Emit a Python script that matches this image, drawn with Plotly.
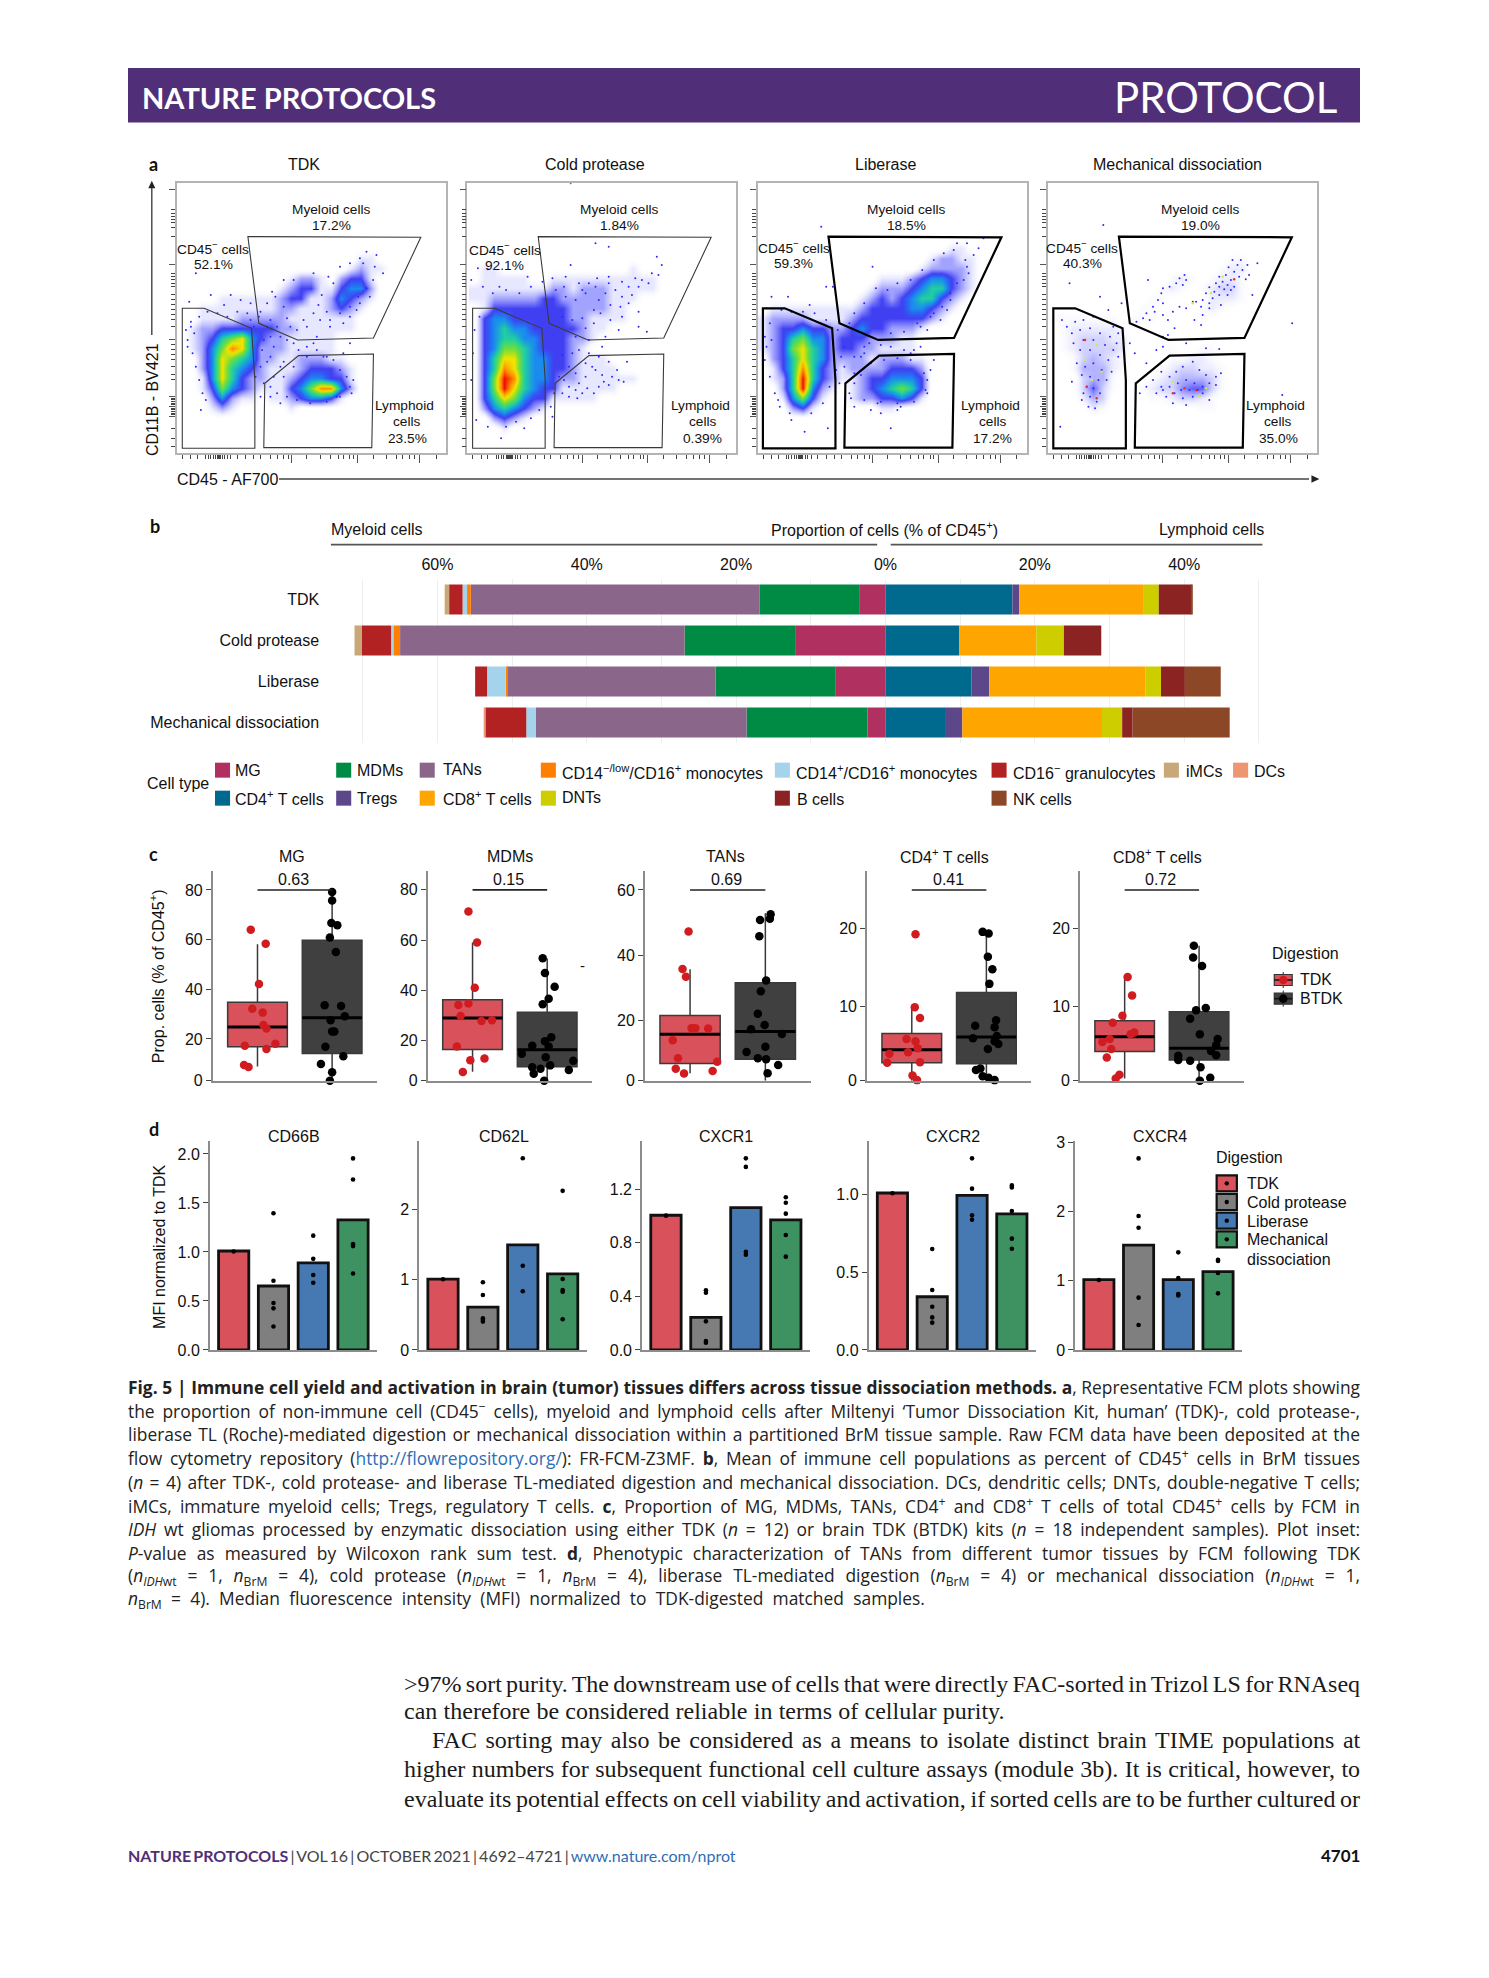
import plotly.graph_objects as go

W, H = 1489, 1978
SANS = "Liberation Sans"
LATO = "Lato"
SERIF = "Liberation Serif"
CAPFONT = "Open Sans"

# ---------- panel a: pseudocolour density levels read per 10 px cell (0 none .. 9 red)
FCM_TDK = [
 "", "", "", "", "", "", "",
 "000000000000000000110",
 "000000000000000001211",
 "000000000001221023310",
 "000000000012331134420",
 "000011111123311243210",
 "0011111111221112321",
 "001111222221111111",
 "012233333322111111",
 "0123567432211111",
 "0124687422211111",
 "00247654221122211",
 "002475432111233321",
 "001475322112344331",
 "001364321113468842",
 "00024211011234431",
 "000121000001",
]
FCM_COLD = [
 "", "", "", "", "", "", "", "",
 "01100000000000001",
 "0111110011111111111",
 "1111111122122211111",
 "11222223322222111",
 "0133333333222211",
 "0344333333221111",
 "034544333332110",
 "0345544333221",
 "034665433321",
 "035775443321110",
 "0358754433211110",
 "03698544322111111",
 "0369754331111110",
 "0357643311111",
 "02454321",
 "002321",
 "0001",
]
FCM_LIB = [
 "", "", "", "", "", "",
 "000000000000000000011",
 "0000000000000000012211",
 "0000000000000000122221",
 "0000000000001112344321",
 "0000000000012223455321",
 "0000000000123234553210",
 "01111111112333344321",
 "1222211112333333321",
 "12334332234332221",
 "1235644233322211",
 "1236754233221111",
 "02357542222122211",
 "01358532122223332",
 "01259532112334443",
 "00259421012345653",
 "00146310012233431",
 "00023100000011",
]
FCM_MECH = [
 "", "", "", "", "", "", "",
 "00000000000000000011",
 "00000000000000000122",
 "00000000000012101221",
 "00000000000121012331",
 "00000000001100002221",
 "0000000001100001210",
 "11111110111000010",
 "01222221",
 "012333220001",
 "01233332000110011",
 "00134321000011221",
 "001444210001233221",
 "000344100012344431",
 "000363100123356631",
 "00024300001123321",
 "00002100000000011",
]
FCM_GRIDS = [FCM_TDK, FCM_COLD, FCM_LIB, FCM_MECH]

SPARSE_TDK = [(620,225),(590,215),(640,280),(570,235),(615,260),(600,350),(570,370),(540,410),(480,440),(450,420),(410,440),(380,450),(340,300),(305,335),(290,370),(270,395),(300,420),(350,415),(320,440),(180,345),(120,345),(55,365),(75,280),(210,360),(240,370),(160,375),(200,395),(240,420),(60,440),(50,500),(70,460),(90,690),(105,660),(280,480),(310,500),(300,530),(270,560),(330,560),(350,480),(430,490),(440,510),(520,520),(540,490),(550,600),(320,640),(330,670),(300,650),(270,650),(540,620),(500,650),(460,530),(490,540),
 (140,400),(170,410),(110,395),(85,410),(60,425),(45,450),(50,480),(65,520),(75,560),(85,600),(95,640),(230,400),(265,410),(290,440),(330,470),(370,490),(410,500),(300,470),(250,440),(275,510),(290,545),(255,590),(280,610),(310,590),(340,545),(385,510),(440,470),(520,430),(560,390),(480,420),(430,400),(400,420),(360,440),(340,380),(315,350),(370,300),(430,280),(475,290),(490,310),(510,260),(540,250),(580,250),(610,300),(590,325),(565,350),(540,380),(510,400),(455,345),(445,375),(470,395),(340,590),(370,560),(410,530),(470,530),(510,570),(530,590),(545,640),(510,650),(470,665),(420,670),(380,660),(350,650),(300,620)]
SPARSE_COLD = [(325,10),(440,200),(400,190),(325,255),(195,290),(75,268),(45,265),(25,300),(110,320),(585,230),(600,255),(570,280),(590,285),(540,300),(520,295),(480,305),(440,310),(405,295),(380,310),(270,295),(310,290),(360,330),(500,370),(530,395),(480,410),(530,440),(555,455),(470,450),(430,470),(420,500),(380,520),(495,545),(470,600),(485,605),(450,590),(420,585),(400,570),(370,590),(340,630),(360,640),(410,620),(440,615),(300,640),(320,650),(305,600),(115,775),(270,710),(185,745),(75,740),(25,600),(350,610),(390,560),(330,520),
 (60,320),(90,340),(130,330),(170,340),(205,320),(240,305),(280,330),(310,350),(340,360),(370,340),(400,320),(430,340),(460,330),(500,320),(530,320),(560,310),(410,360),(445,375),(475,380),(510,345),(415,400),(445,420),(395,430),(370,445),(340,470),(380,480),(350,510),(300,525),(320,560),(290,590),(340,580),(370,550),(410,530),(440,545),(465,570),(425,605),(395,640),(375,625),(345,655),(320,620),(275,640),(265,680),(160,725),(130,740),(205,715),(230,690),(40,720),(50,410),(35,450),(30,520),(300,410),(330,420),(360,415),(395,390),(480,350),(440,290),(350,310),(305,320)]
SPARSE_LIB = [(200,140),(355,260),(235,320),(215,320),(100,350),(165,375),(50,350),(35,385),(640,190),(610,190),(675,205),(690,175),(660,225),(645,280),(630,300),(590,360),(580,390),(540,400),(520,450),(560,420),(500,440),(410,745),(430,690),(380,700),(350,690),(300,680),(150,755),(220,745),(110,720),(70,660),(50,480),(30,470),(480,510),(540,540),(530,570),(520,600),(515,630),(420,525),(470,520),(320,530),(330,500),(270,560),(300,580),(255,610),(370,670),(440,680),
 (80,390),(110,395),(145,395),(180,400),(215,420),(250,450),(270,500),(300,530),(330,520),(345,490),(380,495),(410,500),(450,510),(500,500),(45,430),(35,500),(30,540),(45,590),(60,640),(75,680),(105,700),(170,700),(205,670),(225,620),(245,570),(260,530),(285,430),(300,400),(330,370),(365,325),(400,330),(430,310),(470,300),(505,270),(540,240),(570,220),(600,210),(635,240),(640,260),(610,310),(590,340),(565,380),(530,410),(490,430),(450,455),(410,460),(285,640),(300,610),(320,585),(350,550),(390,540),(430,535),(470,540),(510,580),(520,640),(480,665),(430,670),(380,665),(330,660),(290,655)]
SPARSE_MECH = [(560,240),(585,240),(605,255),(575,255),(548,262),(590,270),(610,285),(565,275),(540,285),(520,290),(580,290),(600,298),(555,300),(530,305),(510,310),(545,315),(520,320),(490,322),(565,320),(555,330),(535,328),(505,335),(480,340),(520,345),(545,345),(500,355),(470,360),(450,365),(490,370),(525,375),(465,380),(490,385),(440,365),(620,345),(635,250),(470,405),(445,420),(465,435),
 (415,285),(400,295),(420,300),(390,310),(410,315),(370,320),(350,325),(345,340),(305,300),(335,360),(350,370),(320,380),(300,400),(325,395),(290,415),(270,425),(310,420),(350,405),(380,395),(400,380),(420,385),(365,420),(385,445),(365,465),(350,470),
 (250,490),(265,520),(300,550),(330,510),(350,500),(420,490),(480,505),(520,507),(170,135),(68,310),(40,740),(160,350),(185,390),(225,370),
 (45,420),(60,440),(85,425),(110,420),(140,410),(170,420),(200,440),(215,460),(75,460),(100,450),(130,445),(160,460),(190,470),(210,490),(80,490),(110,480),(140,480),(175,495),(200,510),(100,510),(130,510),(160,525),(185,540),(215,530),(90,550),(115,560),(140,550),(165,570),(195,575),(105,585),(130,590),(155,600),(180,600),(120,620),(140,625),(160,640),(110,640),(130,650),(150,665),(125,680),(145,685),(105,660),(75,605),
 (300,620),(280,640),(320,600),(345,575),(350,630),(370,590),(390,575),(410,560),(440,545),(460,570),(480,585),(510,590),(525,580),(490,610),(510,615),(470,640),(440,650),(410,655),(385,640),(360,650),(330,640),(345,620),(370,620),(395,610),(420,600),(445,610),(470,620),(430,630),(405,630),(455,630),(380,670),(420,675),(490,660),(710,645),(740,430)]
SPARSE = [SPARSE_TDK, SPARSE_COLD, SPARSE_LIB, SPARSE_MECH]
MECH_YELLOW = [(115,540),(165,575),(135,600),(150,495),(380,605),(480,625),(530,290),(495,340),(460,650),(440,370)]
MECH_RED = [(120,620),(150,655),(415,625),(450,630),(380,640),(565,298),(115,480)]

GATE_MYELOID = [(232,170),(754,172),(611,474),(382,480),(265,430)]
GATE_CD45NEG = [(34,385),(100,385),(243,445),(253,600),(253,805),(34,805)]
GATE_LYMPH = [(283,610),(385,527),(611,522),(606,803),(280,803)]

FCM_XTICKS_MAJOR = [365,563,750]
FCM_XTICKS_MINOR = [35,60,80,105,112,120,128,135,140,142,144,146,148,150,155,162,170,180,200,225,250,270,300,320,340,355,410,450,480,505,520,540,550,610,650,680,700,720,735,800]
FCM_YTICKS_MAJOR = [30,255,480,650,680,710]
FCM_YTICKS_MINOR = [90,100,110,120,128,142,170,280,290,300,310,320,345,360,375,390,405,420,440,495,510,525,540,560,585,600,655,660,665,670,675,685,690,695,700,705,745,775,800]

PANEL_A_TITLES = ["TDK", "Cold protease", "Liberase", "Mechanical dissociation"]
PCT_MYELOID = ["17.2%", "1.84%", "18.5%", "19.0%"]
PCT_CD45NEG = ["52.1%", "92.1%", "59.3%", "40.3%"]
PCT_LYMPH = ["23.5%", "0.39%", "17.2%", "35.0%"]

# ---------- panel b
ROWS_B = ["TDK", "Cold protease", "Liberase", "Mechanical dissociation"]
MG_B = [3.43, 12.0, 6.65, 2.4]
MDM_B = [13.4, 14.9, 16.1, 16.2]
TAN_B = [38.7, 38.1, 27.9, 28.2]
CD14L_B = [0.5, 0.9, 0.2, 0.0]
CD14P_B = [0.6, 0.3, 2.5, 1.3]
CD16N_B = [1.8, 3.9, 1.6, 5.5]
IMC_B = [0.6, 1.0, 0.0, 0.0]
DC_B = [0.0, 0.0, 0.0, 0.2]
CD4_B = [17.0, 9.9, 11.5, 8.1]
TREG_B = [0.9, 0.0, 2.4, 2.2]
CD8_B = [16.6, 10.3, 20.9, 18.7]
DNT_B = [2.1, 3.7, 2.1, 2.7]
BCELL_B = [4.4, 5.0, 3.2, 1.4]
NK_B = [0.1, 0.0, 4.8, 13.0]
X_TICKS_B = [-60,-40,-20,0,20,40]
X_TEXT_B = ["60%","40%","20%","0%","20%","40%"]
X_GRID_B = [-70,-50,-30,-10,10,30,50]

# ---------- panel c  (dx = jitter around the group centre, val = % of CD45+)
MG_TDK_DX = [-.09,.11,.02,-.07,.07,.08,.12,-.17,.24,.12,-.18,-.12]
MG_TDK_VAL = [64.0,58.3,42.1,32.2,30.6,25.6,24.2,17.3,18.1,16.0,9.5,8.7]
MG_BTDK_DX = [0,.0,-.01,.07,-.03,.05,-.10,.12,.17,-.02,.0,.03,-.09,.15,-.15,0,-.03]
MG_BTDK_VAL = [79.2,75.8,66.7,65.8,60.9,55.0,33.6,33.3,29.1,27.5,23.0,23.0,16.9,13.0,9.9,6.6,3.2]
MDM_TDK_DX = [-.055,.06,.03,-.19,-.055,-.16,.12,.26,-.21,-.03,.16,-.13]
MDM_TDK_VAL = [71.4,59.0,41.0,34.1,34.7,29.7,27.7,28.0,17.5,12.0,12.7,7.4]
MDM_BTDK_DX = [-.06,-.03,.10,.02,-.06,.055,-.03,-.2,.02,-.34,-.02,.35,-.2,.04,-.09,.29,-.18,-.04]
MDM_BTDK_VAL = [52.7,46.8,41.4,36.6,34.4,21.2,19.6,17.8,17.5,14.6,13.2,11.8,9.3,10.0,8.7,8.2,6.7,3.9]
TAN_TDK_DX = [-.02,-.10,-.055,.02,.07,.24,-.23,-.16,.36,-.19,.30,-.08]
TAN_TDK_VAL = [47.3,35.8,33.4,17.7,17.7,17.6,14.0,8.5,7.4,5.3,4.6,3.8]
TAN_BTDK_DX = [-.07,.06,.07,-.08,.01,-.06,-.10,-.01,-.19,0,-.25,-.10,.01,.17,.03,-.11,0,.22]
TAN_BTDK_VAL = [50.8,51.2,52.6,45.8,32.3,29.0,22.1,18.7,17.4,12.0,10.4,8.5,8.2,6.4,3.9,1.6,1.6,15.9]
CD4_TDK_DX = [.05,.04,.11,-.07,.05,.08,-.05,-.30,-.33,.11,.01,.07]
CD4_TDK_VAL = [19.3,9.9,8.5,5.8,5.5,4.6,4.1,3.9,2.75,2.8,1.1,.5]
CD4_BTDK_DX = [-.05,.03,.02,.08,.04,.13,-.15,.11,.14,-.18,.11,.16,.02,-.14,-.08,-.05,.03,.11]
CD4_BTDK_VAL = [19.6,19.4,16.4,14.8,12.9,8.2,7.5,7.3,6.2,5.9,5.5,5.15,4.5,1.8,2.0,1.0,.8,.5]
CD8_TDK_DX = [.04,.10,-.03,-.16,.13,.08,-.2,-.3,-.18,-.24,-.07,-.12]
CD8_TDK_VAL = [13.8,11.4,8.8,7.9,6.65,6.4,5.8,5.4,4.5,3.4,1.2,.7]
CD8_BTDK_DX = [-.07,-.08,.04,.09,-.04,-.12,.01,.25,.23,.16,.23,-.28,-.28,-.12,.02,.15,.01]
CD8_BTDK_VAL = [17.8,16.3,15.2,9.8,9.5,8.4,6.4,5.8,5.0,4.25,3.7,3.65,3.1,3.0,2.15,.8,.43]
# box stats: lower fence, q1, median, q3, upper fence
MG_BOX = [(8.9,16.9,24.8,34.8,58.1),(3.2,14.1,28.5,59.7,79.0)]
MDM_BOX = [(7.5,16.3,28.9,36.2,59.0),(3.9,9.4,16.2,31.2,52.6)]
TAN_BOX = [(3.9,6.9,15.8,21.6,35.7),(1.63,8.2,16.7,31.6,52.9)]
CD4_BOX = [(.43,2.75,4.4,6.5,9.9),(.43,2.6,6.05,11.8,19.4)]
CD8_BOX = [(.7,4.2,6.1,8.15,13.8),(.43,3.1,4.6,9.3,17.8)]
P_VALUES = ["0.63","0.15","0.69","0.41","0.72"]
TITLES_C = ["MG","MDMs","TANs","CD4<sup>+</sup> T cells","CD8<sup>+</sup> T cells"]

# ---------- panel d
CD66B_BARS = [1.01,.653,.89,1.327]
CD66B_PTS = [[1.005],[1.395,.707,.48,.425,.24],[1.167,.93,.765,.687],[1.955,1.74,1.08,1.06,.78]]
CD62L_BARS = [1.01,.61,1.497,1.083]
CD62L_PTS = [[1.007],[.964,.784,.451,.428,.404],[2.73,1.2,.836],[2.266,1.01,.855,.83,.437]]
CXCR1_BARS = [1.006,.244,1.063,.971]
CXCR1_PTS = [[1.003],[.446,.428,.214,.067,.055],[1.431,1.367,.734,.712],[1.14,1.1,1.018,.859,.697]]
CXCR2_BARS = [1.011,.343,.996,.876]
CXCR2_PTS = [[1.009],[.65,.386,.279,.21,.176],[1.234,1.039,.867,.839],[1.06,1.047,.895,.717,.652]]
CXCR4_BARS = [1.014,1.514,1.014,1.13]
CXCR4_PTS = [[1.01],[2.764,1.933,1.764,.755,.36],[1.409,1.038,.808,.788],[1.303,1.284,1.11,.817]]
TITLES_D = ["CD66B","CD62L","CXCR1","CXCR2","CXCR4"]
DIGESTIONS = ["TDK","Cold protease","Liberase","Mechanical","dissociation"]

CAPTION = [
 "<b>Fig. 5 | Immune cell yield and activation in brain (tumor) tissues differs across tissue dissociation methods. a</b>, Representative FCM plots showing",
 "the proportion of non-immune cell (CD45<sup>−</sup> cells), myeloid and lymphoid cells after Miltenyi ‘Tumor Dissociation Kit, human’ (TDK)-, cold protease-,",
 "liberase TL (Roche)-mediated digestion or mechanical dissociation within a partitioned BrM tissue sample. Raw FCM data have been deposited at the",
 "flow cytometry repository (<span style=\"color:#2f6db5\">http://flowrepository.org/</span>): FR-FCM-Z3MF. <b>b</b>, Mean of immune cell populations as percent of CD45<sup>+</sup> cells in BrM tissues",
 "(<i>n</i> = 4) after TDK-, cold protease- and liberase TL-mediated digestion and mechanical dissociation. DCs, dendritic cells; DNTs, double-negative T cells;",
 "iMCs, immature myeloid cells; Tregs, regulatory T cells. <b>c</b>, Proportion of MG, MDMs, TANs, CD4<sup>+</sup> and CD8<sup>+</sup> T cells of total CD45<sup>+</sup> cells by FCM in",
 "<i>IDH</i> wt gliomas processed by enzymatic dissociation using either TDK (<i>n</i> = 12) or brain TDK (BTDK) kits (<i>n</i> = 18 independent samples). Plot inset:",
 "<i>P</i>-value as measured by Wilcoxon rank sum test. <b>d</b>, Phenotypic characterization of TANs from different tumor tissues by FCM following TDK",
 "(<i>n</i><sub><i>IDH</i>wt</sub> = 1, <i>n</i><sub>BrM</sub> = 4), cold protease (<i>n</i><sub><i>IDH</i>wt</sub> = 1, <i>n</i><sub>BrM</sub> = 4), liberase TL-mediated digestion (<i>n</i><sub>BrM</sub> = 4) or mechanical dissociation (<i>n</i><sub><i>IDH</i>wt</sub> = 1,",
 "<i>n</i><sub>BrM</sub> = 4). Median fluorescence intensity (MFI) normalized to TDK-digested matched samples.",
]
BODY = [
 ">97% sort purity. The downstream use of cells that were directly FAC-sorted in Trizol LS for RNAseq",
 "can therefore be considered reliable in terms of cellular purity.",
 "FAC sorting may also be considered as a means to isolate distinct brain TIME populations at",
 "higher numbers for subsequent functional cell culture assays (module 3b). It is critical, however, to",
 "evaluate its potential effects on cell viability and activation, if sorted cells are to be further cultured or",
]

# ---------- layout helpers (reference-crop units to page pixels)
zx1 = lambda v: 120 + v / 1.2573
zx2 = lambda v: 130 + v / 1.329
zx3 = lambda v: 130 + v / 2.418
zx4 = lambda v: 780 + v / 2.62
y1 = lambda v: 60 + v / 3
y2 = lambda v: 500 + v / 3
y3 = lambda v: 830 + v / 3
y5 = lambda v: 1110 + v / 3
y8 = lambda v: 1640 + v / 3

fig = go.Figure()
layout = {}
shapes = []
anns = []
n_axes = [0]

def px(x): return x / W
def py(y): return 1 - y / H

def axes(x0, x1, ytop, ybot, xcfg, ycfg):
    n_axes[0] += 1
    n = n_axes[0]
    s = "" if n == 1 else str(n)
    base = dict(showgrid=False, zeroline=False, fixedrange=True)
    layout["xaxis" + s] = {**base, "domain": [px(x0), px(x1)], "anchor": "y" + s, **xcfg}
    layout["yaxis" + s] = {**base, "domain": [py(ybot), py(ytop)], "anchor": "x" + s, **ycfg}
    return "x" + s, "y" + s

def T(x, y, text, size=16, anchor="center", color="#111111", font=SANS, angle=0, just=None):
    a = dict(xref="paper", yref="paper", x=px(x), y=py(y), text=text, showarrow=False,
             xanchor=anchor, yanchor="middle", align=anchor,
             font=dict(family=font, size=size, color=color), textangle=angle,
             borderpad=0, borderwidth=0)
    if just:
        a["name"] = "J%.1f" % just
    anns.append(a)

def rect(x0, y0, x1, y1_, fill, line=None, lw=0):
    shapes.append(dict(type="rect", xref="paper", yref="paper", x0=px(x0), x1=px(x1), y0=py(y0), y1=py(y1_),
                       fillcolor=fill, line=dict(color=line or fill, width=lw)))

def seg(x0, y0, x1, y1_, color, lw):
    shapes.append(dict(type="line", xref="paper", yref="paper", x0=px(x0), x1=px(x1), y0=py(y0), y1=py(y1_),
                       line=dict(color=color, width=lw)))

def dot(x, y, r, color):
    shapes.append(dict(type="circle", xref="paper", yref="paper", x0=px(x-r), x1=px(x+r), y0=py(y-r), y1=py(y+r),
                       fillcolor=color, line=dict(color=color, width=0)))

def tri(points, color):
    p = "M " + " L ".join("%.5f,%.5f" % (px(a), py(b)) for a, b in points) + " Z"
    shapes.append(dict(type="path", xref="paper", yref="paper", path=p, fillcolor=color, line=dict(color=color, width=0)))

# ---------- header / footer
PURPLE = "#512f78"
RIGHT = 1360
rect(128, 68, RIGHT, 122.5, PURPLE)
T(142, 97.5, "<b>NATURE PROTOCOLS</b>", size=29, anchor="left", color="white", font=LATO)
T(1337, 97.5, "PROTOCOL", size=42, anchor="right", color="white", font=LATO)
T(128, y8(650) - 1.2, "<b><span style=\"color:#512f78\">NATURE PROTOCOLS</span></b> | VOL 16 | OCTOBER 2021 | 4692–4721 | <span style=\"color:#2f6db5\">www.nature.com/nprot</span>",
  size=16, anchor="left", color="#444444", font=LATO, just=zx1(774)-128)
T(RIGHT, y8(650) - 1.2, "<b>4701</b>", size=17, anchor="right", color="#111111", font=LATO)

# ---------- panel a
LEFTS = [177.0, 467.3, 757.6, 1048.0]
OFFSETS = [0, 5, 10, 15]
GATE_W = [1.1, 1.1, 2.2, 2.2]
GATE_C = ["#3a3a3a", "#3a3a3a", "#000000", "#000000"]
COLORSCALE = [[0, "rgba(255,255,255,0)"], [1/9, "rgba(120,120,255,0.18)"], [2/9, "rgba(70,70,255,0.5)"], [3/9, "rgba(30,30,240,0.85)"],
              [4/9, "#1a8cf0"], [5/9, "#20d0a0"], [6/9, "#70de3c"], [7/9, "#f0e400"], [8/9, "#ff8c00"], [1, "#ee1000"]]
CELL = 30
for i, L in enumerate(LEFTS):
    xa, ya = axes(L, L + 269, 183.3, 453.3,
                  dict(range=[18, 830], showticklabels=False, showline=True, mirror=True, linecolor="#b4b4b4", linewidth=1.5,
                       ticks="outside", tickmode="array", tickvals=FCM_XTICKS_MAJOR, ticklen=8, tickcolor="#555555", tickwidth=1,
                       minor=dict(ticks="outside", tickmode="array", tickvals=FCM_XTICKS_MINOR, ticklen=4, tickcolor="#444444", tickwidth=1)),
                  dict(range=[820, 10], showticklabels=False, showline=True, mirror=True, linecolor="#b4b4b4", linewidth=1.5,
                       ticks="outside", tickmode="array", tickvals=FCM_YTICKS_MAJOR, ticklen=6, tickcolor="#555555", tickwidth=1,
                       minor=dict(ticks="outside", tickmode="array", tickvals=FCM_YTICKS_MINOR, ticklen=4, tickcolor="#444444", tickwidth=1)))
    rows = [[int(ch) for ch in r.ljust(27, "0")[:27]] for r in FCM_GRIDS[i]]
    rows += [[0] * 27 for _ in range(27 - len(rows))]
    gx = [18 + CELL * c + CELL / 2 + (5 if i == 1 else 0) for c in range(27)]
    gy = [10 + CELL * r + CELL / 2 for r in range(27)]
    fig.add_trace(go.Heatmap(x=gx, y=gy, z=rows, zmin=0, zmax=20 if i == 3 else 9, zsmooth="best",
                             colorscale=COLORSCALE, showscale=False, hoverinfo="skip", xaxis=xa, yaxis=ya))
    fig.add_trace(go.Scatter(x=[p[0] + OFFSETS[i] for p in SPARSE[i]], y=[p[1] for p in SPARSE[i]], mode="markers",
                             marker=dict(size=2, color="#2a2aff"), xaxis=xa, yaxis=ya, hoverinfo="skip"))
    if i == 3:
        fig.add_trace(go.Scatter(x=[p[0] + 15 for p in MECH_YELLOW], y=[p[1] for p in MECH_YELLOW], mode="markers",
                                 marker=dict(size=2.4, color="#c8ee40"), xaxis=xa, yaxis=ya, hoverinfo="skip"))
        fig.add_trace(go.Scatter(x=[p[0] + 15 for p in MECH_RED], y=[p[1] for p in MECH_RED], mode="markers",
                                 marker=dict(size=2.4, color="#ee3020"), xaxis=xa, yaxis=ya, hoverinfo="skip"))
    for gate in (GATE_MYELOID, GATE_CD45NEG, GATE_LYMPH):
        path = "M " + " L ".join("%d,%d" % g for g in gate) + " Z"
        shapes.append(dict(type="path", xref=xa, yref=ya, path=path, line=dict(color=GATE_C[i], width=GATE_W[i])))

T(zx1(229) + 1.5, 165, PANEL_A_TITLES[0]); T(zx1(595) + 2, 165, PANEL_A_TITLES[1])
T(zx1(960) + 2, 165, PANEL_A_TITLES[2]); T(zx1(1327) + 2, 165, PANEL_A_TITLES[3])
T(zx1(42), 164, "<b>a</b>", size=18, font=LATO)
MY_X = [266, 628, 989, 1359]
CD_X = [117, 484, 847, 1210]
CD_Y = [565, 568, 562, 560]
LY_X = [358, 730, 1094, 1453]
CE_X = [361, 733, 1097, 1456]
for i in range(4):
    T(zx1(MY_X[i]), y1(449), "Myeloid cells", size=13.7)
    T(zx1(MY_X[i]), y1(496), PCT_MYELOID[i], size=13.7)
    T(zx1(CD_X[i]), y1(CD_Y[i]), "CD45<sup>−</sup> cells", size=13.7)
    T(zx1(CD_X[i]), y1(CD_Y[i] + 49), PCT_CD45NEG[i], size=13.7)
    T(zx1(LY_X[i]), y1(1037), "Lymphoid", size=13.7)
    T(zx1(CE_X[i]), y1(1085), "cells", size=13.7)
    T(zx1(CE_X[i]), y1(1135), PCT_LYMPH[i], size=13.7)
T(153, 400, "CD11B - BV421", size=16, angle=-90)
seg(zx1(40), y1(825), zx1(40), y1(380), "#333333", 1.3)
tri([(zx1(40), y1(362)), (zx1(40) - 3.5, y1(385)), (zx1(40) + 3.5, y1(385))], "#222222")
T(zx1(135), 479, "CD45 - AF700", size=16)
seg(zx1(200), 479, zx1(1495), 479, "#444444", 1.6)
tri([(zx1(1508), 479), (zx1(1498), 475.3), (zx1(1498), 482.7)], "#222222")

# ---------- panel b
T(zx2(33), 526, "<b>b</b>", size=18, font=LATO)
T(zx2(267), y2(87), "Myeloid cells", anchor="left")
T(zx2(1003), y2(87), "Proportion of cells (% of CD45<sup>+</sup>)")
T(zx2(1507), y2(87), "Lymphoid cells", anchor="right")
seg(zx2(267), y2(134), zx2(993), y2(134), "#555555", 1.8)
seg(zx2(1011), y2(134), zx2(1505), y2(134), "#555555", 1.8)

xa, ya = axes(zx2(1004 - 72 * 9.924), zx2(1004 + 52 * 9.924), y2(233.5) + 1.2, y2(725.5) + 1.2,
              dict(range=[-72, 52], side="top", tickmode="array", tickvals=X_TICKS_B, ticktext=X_TEXT_B,
                   showgrid=True, gridcolor="#eeeeee", gridwidth=1, ticks="outside", ticklen=2, tickcolor="rgba(0,0,0,0)",
                   minor=dict(tickmode="array", tickvals=X_GRID_B, showgrid=True, gridcolor="#eeeeee", gridwidth=1, ticks=""),
                   tickfont=dict(family=SANS, size=16, color="#111111")),
              dict(range=[3.5, -0.5], tickmode="array", tickvals=[0, 1, 2, 3], ticktext=ROWS_B, ticks="outside",
                   ticklen=zx2(1004 - 72 * 9.924) - zx2(257), tickcolor="rgba(0,0,0,0)",
                   tickfont=dict(family=SANS, size=16, color="#111111")))
SERIES_B = [("MG", MG_B, "#b03060", -1), ("MDMs", MDM_B, "#008b45", -1), ("TANs", TAN_B, "#8b668b", -1),
            ("CD14low", CD14L_B, "#ff7f00", -1), ("CD14+", CD14P_B, "#a6d3ec", -1), ("CD16-", CD16N_B, "#b22222", -1),
            ("iMCs", IMC_B, "#c8a878", -1), ("DCs", DC_B, "#ee9572", -1),
            ("CD4", CD4_B, "#006a8e", 1), ("Tregs", TREG_B, "#5d478b", 1), ("CD8", CD8_B, "#ffa500", 1),
            ("DNTs", DNT_B, "#cdcd00", 1), ("B cells", BCELL_B, "#8b2323", 1), ("NK cells", NK_B, "#8b4726", 1)]
for name, vals, col, sign in SERIES_B:
    fig.add_trace(go.Bar(y=[0, 1, 2, 3], x=[sign * v for v in vals], orientation="h", width=0.73, name=name,
                         marker=dict(color=col, line=dict(width=0)), xaxis=xa, yaxis=ya, hoverinfo="skip"))

LEG_ROW1 = [(113,140,"MG","#b03060",810), (274,302,"MDMs","#008b45",810), (385,416,"TANs","#8b668b",808),
            (546,574,"CD14<sup>−/low</sup>/CD16<sup>+</sup> monocytes","#ff7f00",815),
            (857,885,"CD14<sup>+</sup>/CD16<sup>+</sup> monocytes","#a6d3ec",815),
            (1145,1173,"CD16<sup>−</sup> granulocytes","#b22222",815), (1374,1403,"iMCs","#c8a878",813), (1466,1494,"DCs","#ee9572",813)]
LEG_ROW2 = [(113,140,"CD4<sup>+</sup> T cells","#006a8e",893), (274,302,"Tregs","#5d478b",897), (385,416,"CD8<sup>+</sup> T cells","#ffa500",893),
            (546,574,"DNTs","#cdcd00",893), (857,887,"B cells","#8b2323",898), (1145,1173,"NK cells","#8b4726",898)]
for sx, tx, label, col, ty in LEG_ROW1:
    rect(zx2(sx), y2(788), zx2(sx + 20), y2(833), col)
    T(zx2(tx), y2(ty), label, anchor="left")
for sx, tx, label, col, ty in LEG_ROW2:
    rect(zx2(sx), y2(872), zx2(sx + 20), y2(917), col)
    T(zx2(tx), y2(ty), label, anchor="left")
T(zx2(22), y2(850), "Cell type", anchor="left")

# ---------- panel c
RED, BLK = "#d01c20", "#000000"
FILLS = ["#d9525b", "#404040"]
PANELS_C = [
 (zx3(200), zx3(597), MG_BOX, MG_TDK_DX, MG_TDK_VAL, MG_BTDK_DX, MG_BTDK_VAL, [3.2, 87.5], [3.2, 20, 40, 60, 80], ["0", "20", "40", "60", "80"], 80, zx3(392)),
 (zx3(720), zx3(1117), MDM_BOX, MDM_TDK_DX, MDM_TDK_VAL, MDM_BTDK_DX, MDM_BTDK_VAL, [3.9, 87.4], [3.9, 20, 40, 60, 80], ["0", "20", "40", "60", "80"], 80, zx3(918)),
 (zx3(1245), zx4(80), TAN_BOX, TAN_TDK_DX, TAN_TDK_VAL, TAN_BTDK_DX, TAN_BTDK_VAL, [1.63, 65.7], [1.63, 20, 40, 60], ["0", "20", "40", "60"], 60, zx3(1440)),
 (zx4(228), zx4(658), CD4_BOX, CD4_TDK_DX, CD4_TDK_VAL, CD4_BTDK_DX, CD4_BTDK_VAL, [.43, 27.4], [.43, 10, 20], ["0", "10", "20"], 25, zx4(431)),
 (zx4(786), zx4(1215), CD8_BOX, CD8_TDK_DX, CD8_TDK_VAL, CD8_BTDK_DX, CD8_BTDK_VAL, [.43, 27.4], [.43, 10, 20], ["0", "10", "20"], 25, zx4(988)),
]
AXIS_X = dict(showticklabels=False, ticks="", showline=True, linecolor="#8c8c8c", linewidth=1.6)
def axis_y(rng, tv, tt):
    return dict(range=rng, tickmode="array", tickvals=tv, ticktext=tt, ticks="outside", ticklen=5, tickwidth=1, tickcolor="#444444",
                showline=True, linecolor="#8c8c8c", linewidth=1.6, tickfont=dict(family=SANS, size=16, color="#111111"))
for k, (x0, x1_, box, dx1, v1, dx2, v2, rng, tv, tt, brk, tx) in enumerate(PANELS_C):
    xa, ya = axes(x0, x1_, y3(124), y3(752), dict(range=[0.4, 2.6], **AXIS_X), axis_y(rng, tv, tt))
    for g in (0, 1):
        lo, q1, med, q3, hi = box[g]
        fig.add_trace(go.Box(x=[g + 1], lowerfence=[lo], q1=[q1], median=[med], q3=[q3], upperfence=[hi], width=0.8, whiskerwidth=0,
                             fillcolor=FILLS[g], line=dict(color="#3a3a3a", width=1.5), xaxis=xa, yaxis=ya, hoverinfo="skip"))
        fig.add_trace(go.Scatter(x=[g + 0.6, g + 1.4], y=[med, med], mode="lines", line=dict(color="#000000", width=3),
                                 xaxis=xa, yaxis=ya, hoverinfo="skip"))
    fig.add_trace(go.Scatter(x=[1 + d for d in dx1], y=v1, mode="markers", marker=dict(size=8.5, color=RED), cliponaxis=False, xaxis=xa, yaxis=ya, hoverinfo="skip"))
    fig.add_trace(go.Scatter(x=[2 + d for d in dx2], y=v2, mode="markers", marker=dict(size=8.5, color=BLK), cliponaxis=False, xaxis=xa, yaxis=ya, hoverinfo="skip"))
    fig.add_trace(go.Scatter(x=[1, 2], y=[brk, brk], mode="lines", line=dict(color="#222222", width=1.6), xaxis=xa, yaxis=ya, hoverinfo="skip"))
    T((x0 + x1_) / 2 - 1, y3(147), P_VALUES[k])
    T(tx, y3(78), TITLES_C[k])
T(zx3(58), 854, "<b>c</b>", size=18, font=LATO)
T(zx3(64), y3(437), "Prop. cells (% of CD45<sup>+</sup>)", angle=-90)
T(zx3(1095), y3(405), "-", size=15)
T(zx4(1290), y3(369), "Digestion", anchor="left")
for yy, fill, col, lab, ty in ((y3(450), FILLS[0], RED, "TDK", 450), (y3(506), FILLS[1], BLK, "BTDK", 505)):
    kx0, kx1 = zx4(1295), zx4(1342)
    seg((kx0 + kx1) / 2, yy - 8, (kx0 + kx1) / 2, yy + 8, "#222222", 1)
    rect(kx0, yy - 5.5, kx1, yy + 5.5, fill, "#333333", 1.2)
    seg(kx0, yy, kx1, yy, "#111111", 1.5)
    dot((kx0 + kx1) / 2, yy, 4.3, col)
    T(zx4(1362), y3(ty), lab, anchor="left")

# ---------- panel d
DCOL = ["#d9525b", "#7f7f7f", "#4679b2", "#3e9160"]
PANELS_D = [
 (zx3(193), zx3(597), CD66B_BARS, CD66B_PTS, [0, 2.136], [0, .5, 1, 1.5, 2], ["0.0", "0.5", "1.0", "1.5", "2.0"], zx3(395)),
 (zx3(699), zx3(1104), CD62L_BARS, CD62L_PTS, [0, 2.98], [0, 1, 2], ["0", "1", "2"], zx3(902)),
 (zx3(1238), zx4(78), CXCR1_BARS, CXCR1_PTS, [0, 1.563], [0, .4, .8, 1.2], ["0.0", "0.4", "0.8", "1.2"], zx3(1438)),
 (zx4(232), zx4(670), CXCR2_BARS, CXCR2_PTS, [0, 1.348], [0, .5, 1], ["0.0", "0.5", "1.0"], zx4(451)),
 (zx4(773), zx4(1210), CXCR4_BARS, CXCR4_PTS, [0, 3.02], [0, 1, 2, 3], ["0", "1", "2", "3"], zx4(992)),
]
for k, (x0, x1_, bars, pts, rng, tv, tt, tx) in enumerate(PANELS_D):
    xa, ya = axes(x0, x1_, y5(92), y5(720), dict(range=[0.4, 4.6], **AXIS_X), axis_y(rng, tv, tt))
    fig.add_trace(go.Bar(x=[1, 2, 3, 4], y=bars, width=0.76, marker=dict(color=DCOL, line=dict(color="#111111", width=2.8)), xaxis=xa, yaxis=ya, hoverinfo="skip"))
    xs = [g + 1 for g in range(4) for _ in pts[g]]
    ys = [v for g in range(4) for v in pts[g]]
    fig.add_trace(go.Scatter(x=xs, y=ys, mode="markers", marker=dict(size=4.6, color="#000000"), xaxis=xa, yaxis=ya, hoverinfo="skip"))
    T(tx + 1, y5(80), TITLES_D[k])
T(zx3(58), 1129, "<b>d</b>", size=18, font=LATO)
T(zx3(70), y5(408), "MFI normalized to TDK", angle=-90)
T(zx4(1141) + 1, y5(143), "Digestion", anchor="left")
for j, (top, col) in enumerate(zip((196, 252, 308, 364), DCOL)):
    kx0, kx1 = zx4(1144), zx4(1197)
    rect(kx0, y5(top), kx1, y5(top + 48), col, "#111111", 2.2)
    dot((kx0 + kx1) / 2, y5(top + 24), 2.2, "#000000")
for lab, ty in zip(DIGESTIONS, (220, 277, 334, 388, 447)):
    T(zx4(1220) + 1, y5(ty), lab, anchor="left")

# ---------- caption and body text
for j, line in enumerate(CAPTION):
    T(128, 1387 + 23.65 * j, line, size=17.4, anchor="left", color="#222222", font=CAPFONT,
      just=(zx1(1012) - 128) if j == 9 else RIGHT - 128)
BODY_Y = [135, 218, 305, 392, 480]
BODY_X = [zx1(357), zx1(357), zx1(392), zx1(357), zx1(357)]
for j, (line, zy, bx) in enumerate(zip(BODY, BODY_Y, BODY_X)):
    T(bx, y8(zy) - 1.2, line, size=24, anchor="left", color="#1a1a1a", font=SERIF,
      just=(zx1(1112) - bx) if j == 1 else RIGHT - bx)

fig.update_layout(width=W, height=H, autosize=False, margin=dict(l=0, r=0, t=0, b=0, pad=0, autoexpand=False), paper_bgcolor="white", plot_bgcolor="white",
                  showlegend=False, barmode="relative", shapes=shapes, annotations=anns, **layout)

POST = """
document.body.style.margin = '0';
var gd = document.getElementById('{plot_id}');
(gd.layout.annotations || []).forEach(function (a, i) {
  if (!a.name || a.name[0] !== 'J') return;
  var el = gd.querySelector('.annotation[data-index="' + i + '"] text.annotation-text');
  if (!el) return;
  var spaces = (el.textContent.match(/ /g) || []).length;
  if (!spaces) return;
  el.style.wordSpacing = ((parseFloat(a.name.slice(1)) - el.getComputedTextLength()) / spaces) + 'px';
});
"""
fig.write_html("out.html", post_script=POST, config={"displayModeBar": False})
